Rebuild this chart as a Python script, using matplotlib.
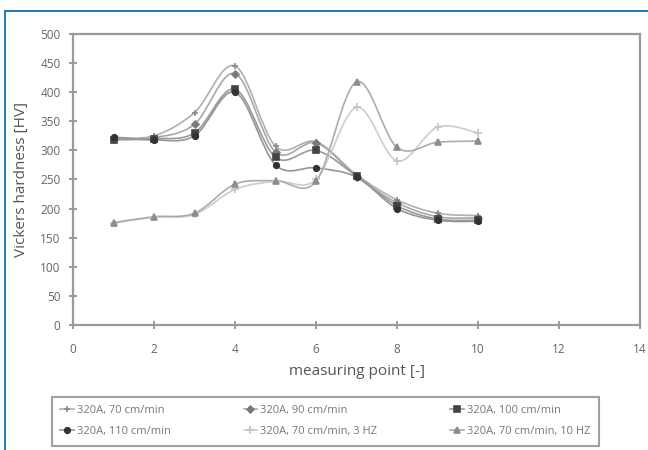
import numpy as np
import matplotlib
matplotlib.use("Agg")
import matplotlib.pyplot as plt
from matplotlib.path import Path
from matplotlib.patches import PathPatch, Rectangle
from matplotlib.lines import Line2D

plt.rcParams['font.family'] = ['Open Sans', 'DejaVu Sans']

points = [1, 2, 3, 4, 5, 6, 7, 8, 9, 10]
hv_70 = [322, 325, 365, 445, 307, 315, 258, 215, 192, 188]
hv_90 = [320, 322, 345, 432, 297, 313, 255, 210, 186, 184]
hv_100 = [318, 320, 330, 405, 288, 300, 256, 205, 182, 180]
hv_110 = [323, 318, 325, 400, 275, 270, 254, 200, 180, 178]
hv_70_3hz = [175, 185, 190, 233, 247, 250, 374, 282, 340, 330]
hv_70_10hz = [176, 186, 192, 242, 248, 247, 418, 305, 314, 316]

labels = ["320A, 70 cm/min", "320A, 90 cm/min", "320A, 100 cm/min",
          "320A, 110 cm/min", "320A, 70 cm/min, 3 HZ", "320A, 70 cm/min, 10 HZ"]
series = [hv_70, hv_90, hv_100, hv_110, hv_70_3hz, hv_70_10hz]
markers = ["+", "D", "s", "o", "+", "^"]
msizes = [5, 3.5, 4, 4, 6, 4.5]
mcolors = ["#8a8a8a", "#7a7a7a", "#444444", "#333333", "#c4c4c4", "#8c8c8c"]
lcolors = ["#b0b0b0", "#a8a8a8", "#9a9a9a", "#969696", "#cccccc", "#acacac"]


def smooth_path(x, y):
    # Catmull-Rom style cubic segments through every point
    p = np.column_stack([x, y]).astype(float)
    n = len(p)
    verts = [p[0]]
    codes = [Path.MOVETO]
    for i in range(n - 1):
        p0 = p[i - 1] if i > 0 else p[i]
        p3 = p[i + 2] if i + 2 < n else p[i + 1]
        c1 = p[i] + (p[i + 1] - p0) / 6.0
        c2 = p[i + 1] - (p3 - p[i]) / 6.0
        verts += [c1, c2, p[i + 1]]
        codes += [Path.CURVE4] * 3
    return Path(verts, codes)


fig = plt.figure(figsize=(6.48, 4.5), dpi=100)
ax = fig.add_axes([0.1127, 0.2778, 0.8752, 0.6467])

handles = []
for vals, lab, mk, ms, mc, lc in zip(series, labels, markers, msizes, mcolors, lcolors):
    ax.add_patch(PathPatch(smooth_path(points, vals), fill=False,
                           edgecolor=lc, lw=1.2, zorder=2))
    ax.plot(points, vals, ls="none", marker=mk, ms=ms, color=mc,
            mec=mc, mew=1.2, zorder=3)
    handles.append(Line2D([], [], color=lc, lw=1.2, marker=mk, ms=ms,
                          mfc=mc, mec=mc, mew=1.2, label=lab))

ax.set_xlim(0, 14)
ax.set_ylim(0, 500)
ax.set_xticks(np.arange(0, 15, 2))
ax.set_yticks(np.arange(0, 501, 50))
for s in ax.spines.values():
    s.set_color("#9a9a9a")
    s.set_linewidth(1.6)
ax.tick_params(direction="inout", length=6, width=1.2, color="#8a8a8a",
               labelsize=8.5, labelcolor="#666666")
ax.tick_params(axis="x", pad=10)
ax.tick_params(axis="y", pad=6)
ax.set_xlabel("measuring point [-]", fontsize=11, color="#555555", labelpad=6)
ax.set_ylabel("Vickers hardness [HV]", fontsize=11, color="#555555", labelpad=8)

# legend filled row by row: reorder for matplotlib's column-wise layout
order = [0, 3, 1, 4, 2, 5]
leg = fig.legend([handles[i] for i in order], [labels[i] for i in order],
                 loc="upper left", bbox_to_anchor=(0.080, 0.009, 0.844, 0.109),
                 mode="expand", ncol=3, fontsize=8, frameon=True, fancybox=False,
                 handlelength=1.2, handletextpad=0.3, columnspacing=0.4,
                 borderpad=0.75, labelspacing=0.9, borderaxespad=0)
leg.get_frame().set_edgecolor("#8a8a8a")
leg.get_frame().set_linewidth(1.5)
for t in leg.get_texts():
    t.set_color("#777777")

# blue frame around the figure
fig.patches.append(Rectangle((5 / 648, -0.1), 1.2, 1 - 11 / 450 + 0.1,
                             transform=fig.transFigure, fill=False,
                             edgecolor="#1f78b4", lw=1.4))

fig.savefig("out.png", dpi=100)
